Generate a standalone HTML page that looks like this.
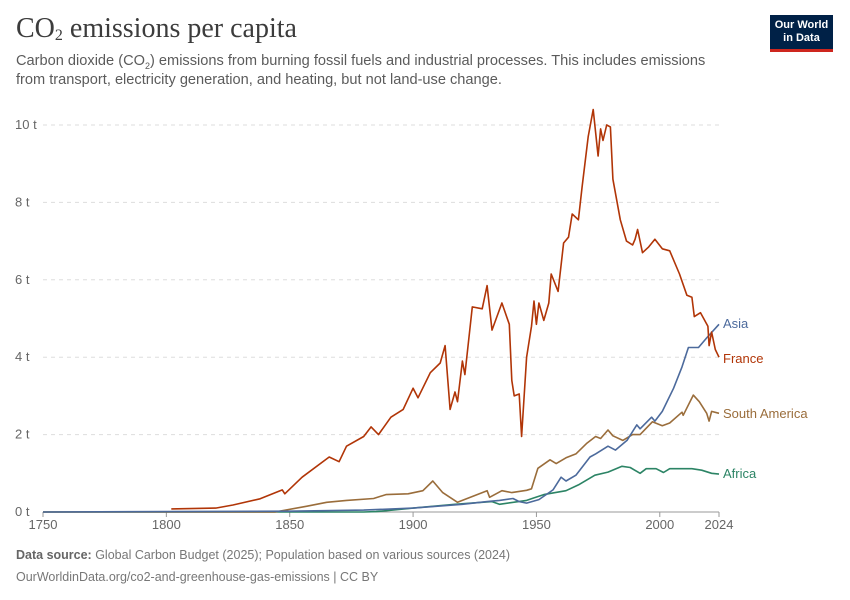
<!DOCTYPE html>
<html><head><meta charset="utf-8">
<style>
body{margin:0;background:#fff;font-family:"Liberation Sans",sans-serif;}
#wrap{position:relative;width:850px;height:600px;overflow:hidden;}
.t{position:absolute;white-space:nowrap;}
sub{line-height:0;}
</style></head>
<body>
<div id="wrap">
<div class="t" style="left:16px;top:13px;font-family:'Liberation Serif',serif;font-size:28px;color:#3c3c3c;">CO<sub style="font-size:16px;vertical-align:-3px">2</sub> emissions per capita</div>
<div class="t" style="left:16px;top:52px;font-size:14.6px;line-height:19px;color:#5b5b5b;">Carbon dioxide (CO<sub style="font-size:9px">2</sub>) emissions from burning fossil fuels and industrial processes. This includes emissions<br>from transport, electricity generation, and heating, but not land-use change.</div>
<div style="position:absolute;left:770px;top:15px;width:63px;height:37px;background:#002147;border-bottom:3px solid #ce261e;box-sizing:border-box;color:#fff;font-size:11px;line-height:13px;text-align:center;padding-top:4px;font-weight:bold;">Our World<br>in Data</div>
<svg id="chart" width="850" height="600" style="position:absolute;left:0;top:0"></svg>
<div class="t" style="left:16px;top:548px;font-size:12.5px;color:#777;"><b style="color:#666">Data source:</b> Global Carbon Budget (2025); Population based on various sources (2024)</div>
<div class="t" style="left:16px;top:570px;font-size:12.5px;color:#777;">OurWorldinData.org/co2-and-greenhouse-gas-emissions | CC BY</div>
</div>
<script>
const yTicks=[0,2,4,6,8,10];
const xTicks=[1750,1800,1850,1900,1950,2000,2024];
const seriesNames=["France","Asia","South America","Africa"];
const franceYears=[1802,1820,1827,1838,1847,1848,1855,1866,1870,1873,1880,1883,1886,1891,1896,1900,1902,1907,1911,1913,1915,1917,1918,1920,1921,1924,1928,1930,1932,1936,1939,1940,1941,1943,1944,1946,1948,1949,1950,1951,1953,1955,1956,1958.8,1961,1963,1964.5,1967,1968.5,1971,1973,1975,1976,1977,1978.5,1980,1981,1984,1986.5,1989,1990,1991,1993,1995.5,1998,2001,2004,2008,2011,2013,2014,2016.5,2019.5,2020,2021,2022.5,2024];
const franceValues=[0.08,0.1,0.18,0.34,0.57,0.47,0.9,1.42,1.3,1.7,1.95,2.2,2.0,2.45,2.65,3.2,2.95,3.6,3.85,4.3,2.65,3.1,2.85,3.9,3.55,5.3,5.25,5.85,4.7,5.4,4.85,3.4,3.0,3.05,1.95,4.0,4.8,5.45,4.85,5.4,4.95,5.4,6.15,5.7,6.95,7.1,7.7,7.55,8.4,9.7,10.4,9.2,9.9,9.6,10.0,9.95,8.6,7.55,7.0,6.9,7.05,7.3,6.7,6.85,7.05,6.8,6.75,6.15,5.6,5.55,5.05,5.15,4.8,4.3,4.65,4.2,4.0];
const asiaYears=[1750,1800,1850,1880,1900,1910,1920,1930,1935,1940.5,1943,1946,1951,1956.7,1960,1962,1966,1971.7,1974,1979,1982,1986.7,1990.7,1992,1996.7,1998,2001,2005.6,2009,2011.6,2015.7,2019,2024];
const asiaValues=[0.0,0.01,0.02,0.05,0.1,0.15,0.2,0.27,0.3,0.35,0.27,0.23,0.32,0.57,0.9,0.8,0.95,1.42,1.5,1.7,1.6,1.85,2.25,2.15,2.45,2.35,2.6,3.2,3.75,4.25,4.25,4.5,4.85];
const saYears=[1844,1857,1865,1873,1884,1889,1898,1904,1908,1912,1918,1924,1930,1931,1936,1940,1946,1948,1950.6,1955.5,1958,1962,1966,1970.5,1974,1976,1979,1981,1985,1989,1992,1997,2001,2004,2009,2009.5,2013.6,2016,2019,2020,2021,2024];
const saValues=[0.0,0.15,0.25,0.3,0.35,0.45,0.47,0.55,0.8,0.5,0.25,0.4,0.55,0.38,0.55,0.5,0.56,0.6,1.13,1.35,1.25,1.4,1.5,1.78,1.95,1.9,2.12,1.97,1.85,2.0,2.0,2.33,2.23,2.3,2.58,2.5,3.02,2.85,2.55,2.35,2.6,2.55];
const africaYears=[1880,1885,1900,1917,1932,1935,1946,1948.7,1953,1962,1967,1973.7,1979,1984.7,1988,1992,1994.5,1998.5,2001.5,2004,2009,2013,2017,2021,2024];
const africaValues=[0.0,0.01,0.1,0.2,0.27,0.2,0.3,0.36,0.45,0.55,0.7,0.95,1.03,1.18,1.15,1.0,1.12,1.12,1.02,1.12,1.12,1.12,1.08,1.0,0.98];
const seriesColors=["#b13507","#4c6a9c","#9a6d3b","#2c8465"];
const labelOffsets=[[723,363],[723,328],[723,418],[723,478]];

const svg=document.getElementById('chart');
const NS='http://www.w3.org/2000/svg';
const X0=43,X1=719,Y0=512,Y1=125;
function xs(yr){return X0+(yr-1750)/(2024-1750)*(X1-X0);}
function ys(v){return Y0-v/10*(Y0-Y1);}
function mk(tag,attrs){const e=document.createElementNS(NS,tag);for(const k in attrs)e.setAttribute(k,attrs[k]);svg.appendChild(e);return e;}
yTicks.forEach(v=>{
  if(v>0){const g=mk('line',{x1:X0,x2:X1,y1:ys(v),y2:ys(v),stroke:'#ddd','stroke-dasharray':'4,4'});
  
  }
  const t=mk('text',{x:15,y:ys(v)+4,'font-size':13,fill:'#666','font-family':'Liberation Sans, sans-serif'});
  t.textContent=v+' t';
  
  
});
const ax=mk('line',{x1:X0,x2:X1,y1:Y0,y2:Y0,stroke:'#999'});


xTicks.forEach(yr=>{
  const tk=mk('line',{x1:xs(yr),x2:xs(yr),y1:Y0,y2:Y0+5,stroke:'#999'});
  
  
  const t=mk('text',{x:xs(yr),y:Y0+17,'font-size':13,fill:'#666','text-anchor':'middle','font-family':'Liberation Sans, sans-serif'});
  t.textContent=yr;
  
  
});
const data=[[franceYears,franceValues],[asiaYears,asiaValues],[saYears,saValues],[africaYears,africaValues]];
[3,2,1,0].forEach(i=>{
  const [yrs,vals]=data[i];
  let d='';
  if(i!==0 && yrs[0]>1750) d+='M'+xs(1750)+','+ys(0)+'L'+xs(yrs[0])+','+ys(0);
  yrs.forEach((yr,j)=>{d+=(j===0&&!d?'M':'L')+xs(yr).toFixed(1)+','+ys(vals[j]).toFixed(1);});
  const p=mk('path',{d:d,fill:'none',stroke:seriesColors[i],'stroke-width':1.6,'stroke-linejoin':'round'});
  
  
  const l=mk('text',{x:labelOffsets[i][0],y:labelOffsets[i][1],'font-size':13,fill:seriesColors[i],'font-family':'Liberation Sans, sans-serif'});
  l.textContent=seriesNames[i];
  
  
});
</script>
</body></html>
